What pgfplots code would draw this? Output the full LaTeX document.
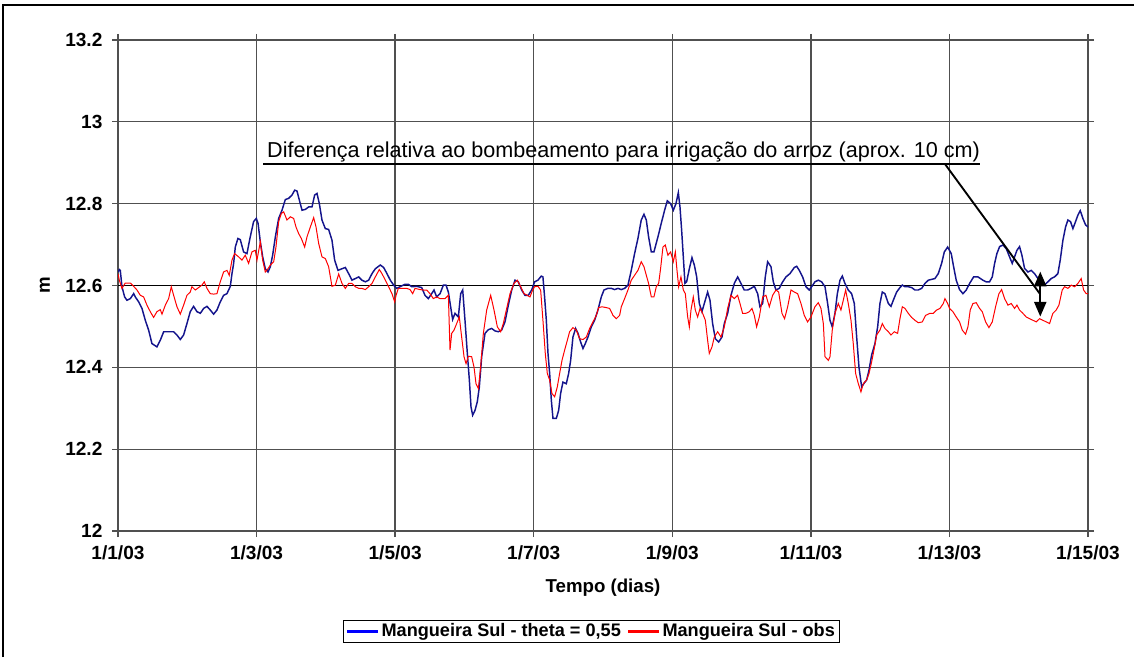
\documentclass[border=0pt]{standalone}
\usepackage{pgfplots}
\pgfplotsset{compat=1.18}
\usepackage{fontspec}
\setmainfont{Liberation Sans}
\usetikzlibrary{arrows.meta}
\definecolor{navy}{RGB}{20,20,140}
\definecolor{gridc}{RGB}{80,80,80}
\pgfplotsset{legimg/.style={legend image code/.code={\draw[##1] (0pt,0pt) -- (23pt,0pt);}}}
\begin{document}
\begin{tikzpicture}
\useasboundingbox (0,0) rectangle (850.5pt,492.75pt);
\draw[line width=1.9pt] (2.25pt,0pt) -- (2.25pt,489pt) -- (850.5pt,489pt);
\begin{axis}[
  at={(88.5pt,94.5pt)}, anchor=south west,
  width=727.5pt, height=368.25pt, scale only axis,
  xmin=0, xmax=14, ymin=12, ymax=13.2,
  xtick={0,2,4,6,8,10,12,14},
  xticklabels={1/1/03,1/3/03,1/5/03,1/7/03,1/9/03,1/11/03,1/13/03,1/15/03},
  ytick={12,12.2,12.4,12.6,12.8,13,13.2},
  yticklabels={12,12.2,12.4,12.6,12.8,13,13.2},
  grid=major,
  major grid style={gridc, line width=1pt},
  axis line style={gridc, line width=1pt},
  tick align=outside, major tick length=4.5pt,
  tick style={gridc, line width=1pt},
  tick label style={font=\fontsize{14.3}{16}\selectfont\bfseries},
  yticklabel style={anchor=east, inner sep=0pt, xshift=-7pt},
  xticklabel style={anchor=north, inner sep=0pt, yshift=-6pt},
  /pgf/number format/assume math mode=true,
  xlabel={Tempo (dias)}, ylabel={m},
  label style={font=\fontsize{14}{16}\selectfont\bfseries},
  xlabel style={at={(axis description cs:0.5,-0.116)}, anchor=center},
  ylabel style={at={(axis description cs:-0.0753,0.5)}, anchor=center},
  legend columns=2,
  legend style={at={(0.488,-0.204)}, anchor=center, draw=black, line width=0.8pt,
    font=\fontsize{13.6}{15}\selectfont\bfseries, inner xsep=2pt, inner ysep=1pt,
    nodes={inner sep=1.5pt}, /tikz/every even column/.append style={column sep=3pt}},
  legimg,
]
\draw[black, line width=0.8pt] (axis cs:0,12.6) -- (axis cs:14,12.6);
\addplot[navy, line width=1.1pt, forget plot] table {
0.000 12.633
0.019 12.639
0.033 12.637
0.057 12.597
0.096 12.572
0.129 12.564
0.178 12.568
0.226 12.580
0.250 12.572
0.298 12.560
0.346 12.544
0.394 12.515
0.442 12.491
0.490 12.458
0.562 12.450
0.610 12.466
0.659 12.487
0.731 12.487
0.803 12.487
0.851 12.479
0.899 12.468
0.947 12.479
0.995 12.507
1.043 12.536
1.091 12.549
1.140 12.536
1.188 12.532
1.236 12.544
1.284 12.549
1.332 12.540
1.380 12.530
1.428 12.540
1.476 12.560
1.524 12.576
1.572 12.580
1.621 12.598
1.645 12.629
1.669 12.654
1.693 12.694
1.731 12.715
1.765 12.712
1.813 12.682
1.861 12.678
1.909 12.719
1.957 12.756
1.996 12.764
2.021 12.752
2.054 12.707
2.088 12.670
2.126 12.641
2.165 12.633
2.199 12.646
2.232 12.674
2.271 12.719
2.319 12.764
2.367 12.784
2.415 12.810
2.463 12.813
2.511 12.821
2.550 12.833
2.583 12.831
2.617 12.809
2.656 12.784
2.704 12.786
2.752 12.792
2.800 12.792
2.838 12.821
2.872 12.825
2.906 12.800
2.944 12.760
2.992 12.739
3.040 12.737
3.088 12.711
3.127 12.662
3.175 12.637
3.233 12.641
3.281 12.644
3.329 12.629
3.377 12.613
3.425 12.617
3.473 12.621
3.521 12.613
3.569 12.609
3.618 12.613
3.666 12.629
3.714 12.641
3.786 12.650
3.834 12.644
3.882 12.629
3.930 12.613
3.978 12.601
4.022 12.593
4.070 12.597
4.142 12.603
4.191 12.603
4.239 12.597
4.311 12.598
4.383 12.595
4.431 12.576
4.479 12.568
4.527 12.580
4.561 12.589
4.599 12.572
4.648 12.580
4.696 12.601
4.734 12.601
4.768 12.584
4.801 12.548
4.830 12.517
4.864 12.532
4.912 12.523
4.946 12.580
4.975 12.589
5.008 12.515
5.042 12.434
5.071 12.369
5.095 12.303
5.119 12.283
5.153 12.295
5.186 12.316
5.215 12.352
5.249 12.426
5.297 12.483
5.345 12.492
5.393 12.495
5.441 12.489
5.489 12.487
5.537 12.491
5.585 12.511
5.634 12.552
5.682 12.589
5.730 12.613
5.778 12.609
5.826 12.589
5.874 12.576
5.922 12.576
5.970 12.589
6.013 12.609
6.061 12.613
6.109 12.623
6.133 12.621
6.157 12.572
6.182 12.515
6.206 12.434
6.230 12.385
6.254 12.320
6.278 12.275
6.326 12.275
6.360 12.295
6.388 12.336
6.422 12.364
6.470 12.360
6.504 12.385
6.533 12.417
6.566 12.474
6.605 12.495
6.639 12.483
6.677 12.462
6.711 12.446
6.744 12.458
6.783 12.474
6.831 12.499
6.879 12.515
6.927 12.540
6.975 12.572
7.014 12.589
7.071 12.593
7.120 12.593
7.168 12.590
7.216 12.593
7.264 12.590
7.312 12.593
7.360 12.601
7.408 12.637
7.456 12.678
7.504 12.715
7.552 12.760
7.591 12.774
7.625 12.760
7.658 12.719
7.697 12.682
7.735 12.682
7.793 12.719
7.841 12.752
7.889 12.784
7.928 12.807
7.976 12.800
8.015 12.784
8.053 12.800
8.087 12.827
8.111 12.792
8.135 12.735
8.159 12.670
8.183 12.605
8.207 12.609
8.246 12.641
8.284 12.668
8.318 12.650
8.352 12.621
8.390 12.556
8.428 12.536
8.462 12.556
8.510 12.584
8.544 12.564
8.582 12.507
8.621 12.470
8.669 12.462
8.717 12.474
8.751 12.507
8.799 12.532
8.847 12.576
8.895 12.605
8.943 12.621
8.991 12.605
9.039 12.589
9.087 12.589
9.136 12.593
9.184 12.598
9.232 12.580
9.265 12.548
9.304 12.556
9.342 12.621
9.376 12.658
9.424 12.646
9.458 12.609
9.496 12.589
9.544 12.593
9.593 12.609
9.641 12.621
9.698 12.629
9.761 12.644
9.795 12.647
9.833 12.637
9.881 12.621
9.929 12.597
9.977 12.589
10.011 12.597
10.059 12.609
10.107 12.613
10.155 12.609
10.204 12.597
10.242 12.556
10.276 12.515
10.309 12.499
10.348 12.532
10.382 12.580
10.420 12.613
10.454 12.623
10.492 12.605
10.540 12.589
10.588 12.580
10.627 12.556
10.661 12.474
10.694 12.401
10.733 12.352
10.771 12.362
10.805 12.369
10.839 12.393
10.877 12.430
10.925 12.458
10.964 12.499
10.997 12.556
11.031 12.584
11.069 12.580
11.118 12.556
11.156 12.549
11.190 12.564
11.238 12.584
11.286 12.595
11.320 12.601
11.358 12.597
11.406 12.597
11.454 12.595
11.502 12.589
11.550 12.589
11.599 12.593
11.647 12.605
11.695 12.613
11.743 12.615
11.791 12.617
11.839 12.629
11.887 12.654
11.926 12.682
11.974 12.694
12.026 12.678
12.060 12.646
12.098 12.613
12.146 12.590
12.195 12.580
12.243 12.589
12.291 12.605
12.349 12.621
12.411 12.621
12.483 12.613
12.531 12.609
12.579 12.609
12.618 12.621
12.652 12.654
12.685 12.678
12.724 12.695
12.772 12.699
12.820 12.690
12.858 12.674
12.906 12.654
12.940 12.670
12.974 12.686
13.012 12.695
13.046 12.674
13.084 12.642
13.133 12.633
13.181 12.637
13.229 12.629
13.277 12.617
13.325 12.609
13.373 12.601
13.421 12.609
13.469 12.617
13.517 12.621
13.565 12.629
13.599 12.662
13.638 12.711
13.676 12.743
13.710 12.760
13.748 12.756
13.782 12.739
13.820 12.756
13.854 12.772
13.888 12.783
13.926 12.764
13.965 12.748
14.000 12.743
};
\addplot[red, line width=0.75pt, forget plot] table {
0.000 12.629
0.019 12.613
0.057 12.593
0.105 12.606
0.178 12.606
0.226 12.598
0.274 12.589
0.322 12.576
0.370 12.572
0.418 12.552
0.466 12.536
0.514 12.522
0.562 12.536
0.610 12.541
0.635 12.530
0.683 12.552
0.731 12.568
0.769 12.597
0.803 12.576
0.851 12.548
0.899 12.530
0.947 12.552
0.995 12.576
1.043 12.584
1.067 12.597
1.116 12.589
1.164 12.595
1.212 12.601
1.245 12.609
1.284 12.593
1.332 12.580
1.380 12.579
1.428 12.580
1.476 12.609
1.524 12.633
1.572 12.637
1.606 12.625
1.645 12.662
1.683 12.678
1.741 12.670
1.789 12.662
1.837 12.674
1.885 12.654
1.933 12.682
1.981 12.686
2.006 12.662
2.054 12.707
2.088 12.662
2.126 12.633
2.165 12.641
2.199 12.650
2.247 12.658
2.280 12.694
2.319 12.756
2.357 12.776
2.391 12.780
2.439 12.760
2.487 12.768
2.535 12.764
2.569 12.743
2.607 12.727
2.646 12.715
2.694 12.694
2.728 12.719
2.776 12.743
2.824 12.766
2.858 12.743
2.896 12.703
2.944 12.670
2.992 12.666
3.040 12.646
3.088 12.598
3.137 12.601
3.185 12.628
3.233 12.605
3.281 12.593
3.329 12.605
3.377 12.605
3.425 12.597
3.473 12.593
3.521 12.593
3.569 12.590
3.618 12.597
3.666 12.605
3.714 12.621
3.771 12.639
3.810 12.629
3.858 12.613
3.906 12.597
3.954 12.580
3.993 12.560
4.013 12.576
4.046 12.593
4.094 12.593
4.167 12.593
4.215 12.590
4.253 12.580
4.287 12.593
4.359 12.590
4.407 12.589
4.455 12.589
4.503 12.580
4.551 12.568
4.599 12.572
4.648 12.568
4.720 12.568
4.768 12.576
4.792 12.442
4.816 12.483
4.850 12.491
4.888 12.507
4.926 12.523
4.960 12.474
4.994 12.426
5.023 12.409
5.056 12.427
5.104 12.426
5.138 12.401
5.167 12.360
5.201 12.348
5.234 12.401
5.273 12.483
5.321 12.540
5.379 12.576
5.427 12.540
5.475 12.499
5.523 12.487
5.561 12.507
5.610 12.544
5.658 12.580
5.715 12.605
5.763 12.613
5.812 12.597
5.860 12.580
5.908 12.576
5.946 12.572
5.985 12.589
6.013 12.597
6.061 12.598
6.100 12.589
6.133 12.515
6.167 12.434
6.196 12.385
6.230 12.369
6.263 12.336
6.302 12.328
6.340 12.352
6.374 12.385
6.408 12.417
6.446 12.442
6.485 12.466
6.518 12.487
6.566 12.497
6.614 12.491
6.663 12.470
6.711 12.468
6.759 12.474
6.807 12.495
6.855 12.511
6.903 12.527
6.937 12.546
6.985 12.548
7.047 12.546
7.095 12.544
7.144 12.527
7.192 12.519
7.240 12.527
7.264 12.548
7.312 12.568
7.360 12.589
7.408 12.613
7.456 12.625
7.504 12.637
7.552 12.658
7.591 12.646
7.625 12.625
7.658 12.605
7.697 12.572
7.735 12.572
7.769 12.597
7.803 12.605
7.831 12.641
7.865 12.694
7.899 12.699
7.937 12.674
7.976 12.682
8.015 12.658
8.044 12.682
8.068 12.637
8.092 12.597
8.125 12.621
8.159 12.589
8.188 12.580
8.222 12.523
8.246 12.499
8.270 12.540
8.303 12.572
8.332 12.540
8.366 12.523
8.400 12.544
8.438 12.532
8.477 12.515
8.510 12.466
8.534 12.434
8.573 12.450
8.606 12.474
8.655 12.487
8.703 12.474
8.751 12.499
8.799 12.544
8.847 12.576
8.895 12.568
8.943 12.576
8.977 12.556
9.015 12.532
9.063 12.532
9.112 12.536
9.150 12.544
9.184 12.527
9.217 12.499
9.256 12.523
9.304 12.572
9.352 12.576
9.400 12.548
9.448 12.576
9.496 12.589
9.535 12.584
9.583 12.532
9.621 12.519
9.665 12.548
9.713 12.589
9.761 12.584
9.809 12.580
9.857 12.556
9.905 12.527
9.953 12.511
10.001 12.523
10.059 12.548
10.107 12.558
10.146 12.544
10.180 12.507
10.204 12.426
10.252 12.417
10.276 12.426
10.309 12.491
10.348 12.532
10.396 12.556
10.434 12.540
10.468 12.564
10.502 12.589
10.540 12.556
10.579 12.515
10.612 12.458
10.646 12.385
10.685 12.360
10.723 12.340
10.757 12.360
10.805 12.369
10.839 12.385
10.877 12.413
10.915 12.446
10.949 12.479
10.997 12.491
11.031 12.507
11.069 12.495
11.118 12.487
11.156 12.479
11.204 12.487
11.252 12.483
11.286 12.519
11.320 12.548
11.358 12.544
11.406 12.532
11.454 12.522
11.502 12.515
11.550 12.509
11.608 12.511
11.656 12.527
11.719 12.532
11.767 12.532
11.815 12.540
11.863 12.544
11.911 12.556
11.935 12.568
11.974 12.556
12.002 12.544
12.050 12.536
12.098 12.523
12.146 12.511
12.185 12.491
12.233 12.481
12.267 12.499
12.300 12.540
12.339 12.556
12.387 12.558
12.435 12.544
12.474 12.536
12.522 12.511
12.570 12.497
12.618 12.511
12.666 12.548
12.714 12.580
12.753 12.590
12.796 12.568
12.844 12.552
12.892 12.556
12.940 12.544
12.974 12.552
13.012 12.540
13.060 12.532
13.108 12.523
13.157 12.519
13.205 12.515
13.253 12.511
13.301 12.519
13.349 12.515
13.397 12.511
13.445 12.507
13.493 12.532
13.541 12.540
13.580 12.552
13.628 12.589
13.662 12.597
13.710 12.593
13.758 12.601
13.806 12.597
13.854 12.605
13.902 12.617
13.936 12.589
13.974 12.580
14.000 12.580
};
\addlegendimage{blue, line width=2.25pt}
\addlegendentry{Mangueira Sul - theta = 0,55}
\addlegendimage{red, line width=2.25pt}
\addlegendentry{Mangueira Sul - obs}
\node[anchor=base west, inner sep=0pt, font=\fontsize{16.2}{19}\selectfont] at (axis cs:2.150,12.914) {Diferença relativa ao bombeamento para irrigação do arroz (aprox. 10 cm)};
\draw[black, line width=1.4pt] (axis cs:2.093,12.897) -- (axis cs:12.44,12.897);
\draw[black, line width=1.4pt] (axis cs:11.935,12.897) -- (axis cs:13.30,12.581);
\draw[black, line width=1.6pt, {Triangle[length=11pt,width=9pt]}-{Triangle[length=11pt,width=9pt]}] (axis cs:13.311,12.634) -- (axis cs:13.311,12.524);
\end{axis}
\end{tikzpicture}
\end{document}
